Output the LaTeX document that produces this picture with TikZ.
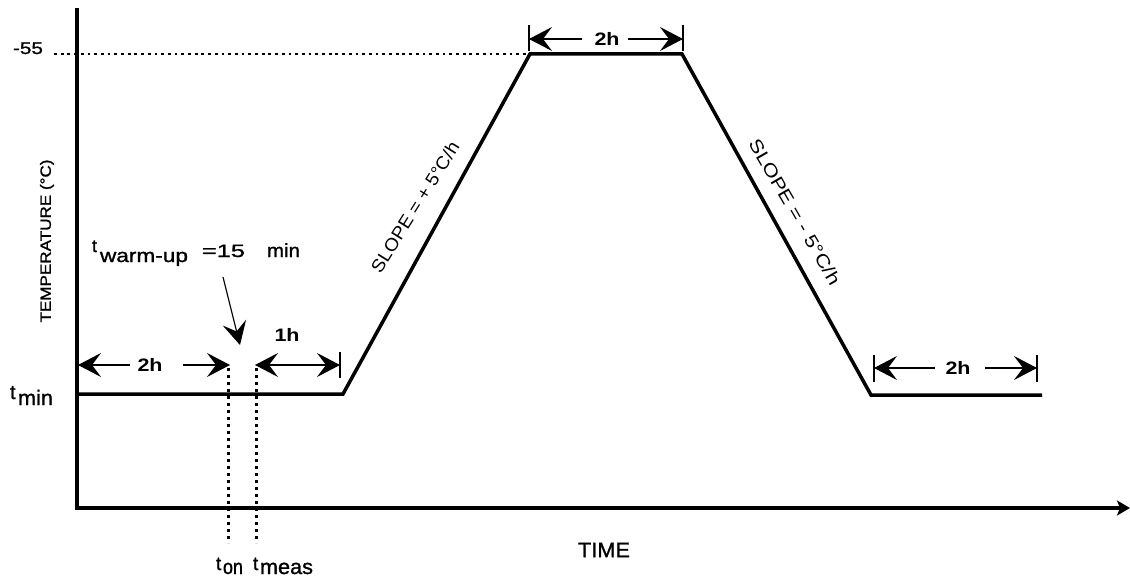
\documentclass[tikz,border=0pt]{standalone}
\usepackage{fontspec}
\setmainfont{Liberation Sans}
\newfontfamily\heavy{Liberation Sans}[FakeBold=1.2]
\usepackage{graphicx}
\usetikzlibrary{arrows.meta}
\newcommand{\fw}[2]{\resizebox{#1}{\height}{#2}}
\begin{document}
\begin{tikzpicture}[x=1pt,y=-1pt,
  axisline/.style={line width=3.5pt, line join=miter, -{Stealth[length=13pt,width=15pt,inset=3pt]}},
  profile/.style={line width=3.5pt, line join=miter},
  dotline/.style={line width=2.8pt, dash pattern=on 2.8pt off 3.9pt},
  vdot/.style={line width=3pt, dash pattern=on 3pt off 4pt},
  dim/.style={line width=1.1pt},
  bigtip/.style={-{Stealth[length=23pt,width=24pt,inset=9pt]}},
  bothtip/.style={{Stealth[length=23pt,width=24pt,inset=9pt]}-{Stealth[length=23pt,width=24pt,inset=9pt]}},
  lbl/.style={inner sep=0pt, outer sep=0pt},
  dimlbl/.style={inner sep=0pt, font=\bfseries\fontsize{18}{18}\selectfont},
  slopelbl/.style={inner sep=0pt, font=\fontsize{18}{18}\selectfont}
]
\useasboundingbox (0,0) rectangle (1130,578);
% axes
\coordinate (ytop) at (77,8);
\coordinate (origin) at (77,508);
\coordinate (xend) at (1130,508);
\draw[axisline] (ytop) -- (origin) -- (xend);
% profile
\coordinate (p0) at (77,394);
\coordinate (p1) at (343,394);
\coordinate (p2) at (530,54);
\coordinate (p3) at (682,54);
\coordinate (p4) at (871,395);
\coordinate (p5) at (1042,395);
\draw[profile] (p0) -- (p1) -- (p2) -- (p3) -- (p4) -- (p5);
% -55 dotted level
\coordinate (d0) at (54,54);
\coordinate (d1) at (526,54);
\draw[dotline] (d0) -- (d1);
% vertical dotted lines
\coordinate (on0) at (228,368);
\coordinate (on1) at (228,543);
\coordinate (me0) at (256,368);
\coordinate (me1) at (256,543);
\draw[vdot] (on0) -- (on1);
\draw[vdot] (me0) -- (me1);
% left 2h
\node[dimlbl] (l2h) at (150,365) {\fw{25pt}{2h}};
\coordinate (l2hA) at (130,365);
\coordinate (l2hL) at (78,365);
\coordinate (l2hB) at (183,365);
\coordinate (l2hR) at (230,365);
\draw[dim,bigtip] (l2hA) -- (l2hL);
\draw[dim,bigtip] (l2hB) -- (l2hR);
% 1h
\node[dimlbl] (h1) at (287,335) {\fw{25pt}{1h}};
\coordinate (h1L) at (255,365);
\coordinate (h1R) at (340,365);
\draw[dim,bothtip] (h1L) -- (h1R);
\coordinate (h1t0) at (340,352);
\coordinate (h1t1) at (340,378);
\draw[dim] (h1t0) -- (h1t1);
% top 2h
\node[dimlbl] (t2h) at (607,39) {\fw{25pt}{2h}};
\coordinate (t2hA) at (582,39);
\coordinate (t2hL) at (529,39);
\coordinate (t2hB) at (628,39);
\coordinate (t2hR) at (683,39);
\draw[dim,bigtip] (t2hA) -- (t2hL);
\draw[dim,bigtip] (t2hB) -- (t2hR);
\coordinate (tk1a) at (529,25);
\coordinate (tk1b) at (529,51);
\coordinate (tk2a) at (683,25);
\coordinate (tk2b) at (683,51);
\draw[dim] (tk1a) -- (tk1b);
\draw[dim] (tk2a) -- (tk2b);
% bottom right 2h
\node[dimlbl] (b2h) at (958,368) {\fw{25pt}{2h}};
\coordinate (b2hA) at (935,368);
\coordinate (b2hL) at (874,368);
\coordinate (b2hB) at (985,368);
\coordinate (b2hR) at (1037,368);
\draw[dim,bigtip] (b2hA) -- (b2hL);
\draw[dim,bigtip] (b2hB) -- (b2hR);
\coordinate (tk3a) at (874,355);
\coordinate (tk3b) at (874,382);
\coordinate (tk4a) at (1037,355);
\coordinate (tk4b) at (1037,382);
\draw[dim] (tk3a) -- (tk3b);
\draw[dim] (tk4a) -- (tk4b);
% warm-up arrow
\coordinate (wu0) at (223,277);
\coordinate (wu1) at (240,345);
\draw[dim,bigtip] (wu0) -- (wu1);
% texts
\node[lbl, anchor=base west, font=\heavy\fontsize{17}{17}\selectfont] (m55) at (13,54) {\fw{30pt}{-55}};
\node[lbl, anchor=base west, font=\heavy\fontsize{20}{20}\selectfont] (tmint) at (10,399) {t};
\node[lbl, anchor=base west, font=\heavy\fontsize{21}{21}\selectfont] (tminm) at (18,405) {\fw{35pt}{min}};
\node[lbl, anchor=base west, font=\heavy\fontsize{18}{18}\selectfont] (wut) at (92,252) {t};
\node[lbl, anchor=base west, font=\heavy\fontsize{19}{19}\selectfont] (wuw) at (100,262) {\fw{88pt}{warm-up}};
\node[lbl, anchor=base west, font=\heavy\fontsize{18}{18}\selectfont] (wue) at (202,257) {\fw{43pt}{=15}};
\node[lbl, anchor=base west, font=\heavy\fontsize{19}{19}\selectfont] (wum) at (267,257) {\fw{33pt}{min}};
\node[lbl, anchor=base west, font=\heavy\fontsize{19}{19}\selectfont] (tont) at (216,570) {t};
\node[lbl, anchor=base west, font=\heavy\fontsize{21}{21}\selectfont] (tono) at (223,574) {\fw{20pt}{on}};
\node[lbl, anchor=base west, font=\heavy\fontsize{19}{19}\selectfont] (tmet) at (253,570) {t};
\node[lbl, anchor=base west, font=\heavy\fontsize{21}{21}\selectfont] (tmem) at (260,574) {\fw{53pt}{meas}};
\node[lbl, rotate=90, font=\heavy\fontsize{15}{15}\selectfont] (ylab) at (47,241) {\fw{163pt}{TEMPERATURE (°C)}};
\node[lbl, font=\heavy\fontsize{21}{21}\selectfont] (xlab) at (604,550) {\fw{52pt}{TIME}};
\node[slopelbl, rotate=58] (sup) at (415,207) {\fw{150pt}{SLOPE = + 5°C/h}};
\node[slopelbl, rotate=-60] (sdn) at (795,212) {\fw{165pt}{SLOPE = - 5°C/h}};
\end{tikzpicture}
\end{document}
